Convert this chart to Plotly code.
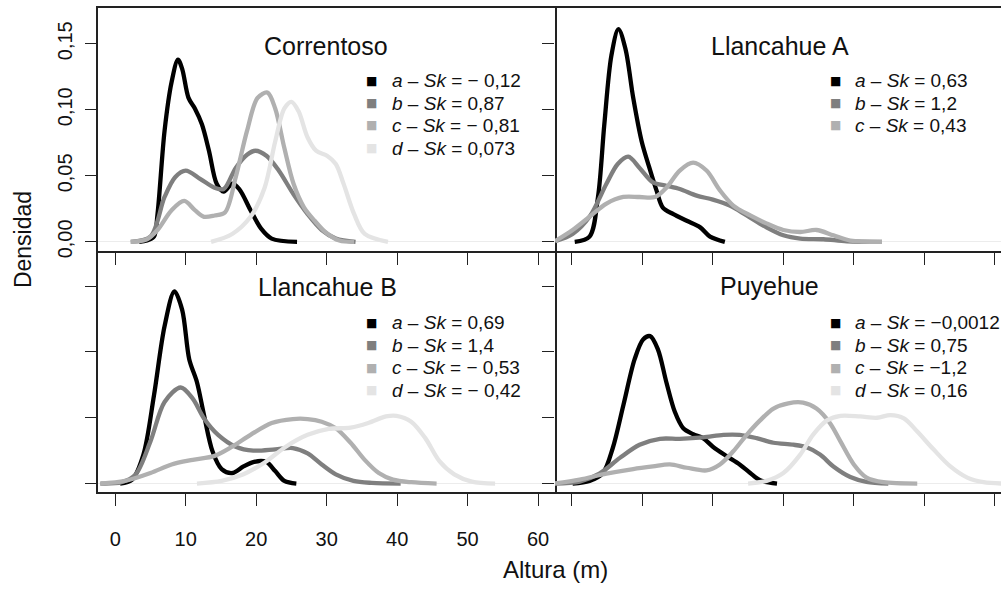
import plotly.graph_objects as go

# ---------------- data ----------------
panels = ["Correntoso", "Llancahue A", "Llancahue B", "Puyehue"]
groups = ["a", "b", "c", "d"]
group_colors = ["#000000", "#7f7f7f", "#b0b0b0", "#e4e4e4"]

x_ticks = [0, 10, 20, 30, 40, 50, 60]
y_ticks = [0, 0.05, 0.10, 0.15]
y_tick_labels = ["0,00", "0,05", "0,10", "0,15"]

# Correntoso
corr_a_x = [3.4, 4.5, 5.5, 6.0, 7.0, 8.0, 8.9, 9.5, 10.4, 11.3, 12.3, 13.3, 14.4, 15.4, 16.6, 17.6, 19.2, 20.7, 22.2, 25.8]
corr_a_y = [0, 0.001, 0.004, 0.021, 0.084, 0.121, 0.138, 0.131, 0.109, 0.101, 0.089, 0.069, 0.044, 0.038, 0.044, 0.040, 0.024, 0.010, 0.0025, 0]
corr_b_x = [2.2, 5.0, 7.0, 8.5, 10.0, 12.1, 14.1, 15.4, 17.1, 18.7, 19.9, 21.5, 23.2, 25.3, 27.3, 29.3, 31.3, 34.1]
corr_b_y = [0, 0.004, 0.034, 0.049, 0.054, 0.0475, 0.041, 0.040, 0.056, 0.066, 0.069, 0.065, 0.054, 0.036, 0.021, 0.009, 0.0025, 0]
corr_c_x = [2.2, 4.5, 6.0, 8.0, 9.8, 11.3, 12.6, 14.1, 15.6, 17.1, 18.7, 20.2, 21.6, 22.7, 24.0, 25.3, 26.8, 28.3, 29.8, 31.8, 33.9]
corr_c_y = [0, 0.002, 0.009, 0.024, 0.031, 0.024, 0.019, 0.020, 0.0225, 0.049, 0.084, 0.109, 0.113, 0.101, 0.071, 0.044, 0.026, 0.016, 0.0075, 0.001, 0]
corr_d_x = [13.6, 16.6, 19.2, 21.2, 22.7, 24.0, 25.0, 26.0, 27.3, 28.5, 30.1, 31.3, 32.4, 33.9, 35.4, 38.7]
corr_d_y = [0, 0.006, 0.019, 0.041, 0.076, 0.101, 0.106, 0.099, 0.079, 0.069, 0.065, 0.059, 0.044, 0.021, 0.006, 0]

# Llancahue A
llA_a_x = [0.4, 2.5, 3.7, 4.6, 5.6, 6.6, 7.6, 8.7, 9.9, 11.0, 12.0, 12.9, 14.4, 16.3, 18.2, 19.6, 21.7]
llA_a_y = [0, 0.004, 0.034, 0.089, 0.141, 0.161, 0.146, 0.109, 0.076, 0.056, 0.039, 0.026, 0.021, 0.016, 0.011, 0.004, 0]
llA_b_x = [-2.4, 0.1, 2.5, 4.9, 6.5, 8.0, 9.6, 11.5, 13.4, 15.3, 17.7, 20.0, 22.4, 24.8, 27.6, 30.0, 32.4, 35.7, 39.0, 44.0]
llA_b_y = [0.0005, 0.006, 0.019, 0.044, 0.059, 0.0645, 0.056, 0.045, 0.0425, 0.040, 0.035, 0.032, 0.0275, 0.020, 0.011, 0.005, 0.0025, 0.002, 0.0005, 0]
llA_c_x = [-2.4, 0.1, 2.5, 4.9, 7.3, 9.6, 11.8, 13.4, 15.3, 17.2, 19.1, 21.0, 22.9, 25.3, 27.6, 30.0, 32.4, 34.7, 37.1, 39.5, 44.0]
llA_c_y = [0.0005, 0.009, 0.019, 0.029, 0.034, 0.034, 0.034, 0.041, 0.054, 0.060, 0.054, 0.039, 0.0275, 0.020, 0.014, 0.009, 0.0075, 0.009, 0.005, 0.001, 0]

# Llancahue B
llB_a_x = [0.7, 2.4, 4.0, 5.5, 7.0, 8.4, 9.5, 10.5, 11.6, 12.6, 13.8, 15.1, 16.6, 18.2, 19.7, 21.4, 22.7, 24.0, 25.7]
llB_a_y = [0, 0.003, 0.022, 0.067, 0.1195, 0.146, 0.132, 0.0945, 0.077, 0.052, 0.0245, 0.011, 0.008, 0.013, 0.0165, 0.0165, 0.0095, 0.002, 0]
llB_b_x = [-2.1, 0.9, 2.9, 5.0, 7.0, 9.3, 11.0, 12.6, 14.6, 17.1, 19.6, 22.7, 25.2, 27.3, 29.3, 31.3, 33.8, 36.4, 40.5]
llB_b_y = [0, 0.001, 0.007, 0.032, 0.062, 0.073, 0.0645, 0.0495, 0.037, 0.028, 0.025, 0.026, 0.027, 0.023, 0.0145, 0.007, 0.002, 0.0005, 0]
llB_c_x = [-2.1, 1.4, 5.0, 8.0, 11.0, 14.1, 16.6, 19.2, 22.2, 25.2, 27.3, 29.3, 31.3, 33.4, 35.4, 37.4, 39.4, 42.0, 45.6]
llB_c_y = [0, 0.002, 0.008, 0.0145, 0.018, 0.021, 0.028, 0.037, 0.046, 0.049, 0.049, 0.047, 0.042, 0.031, 0.018, 0.008, 0.003, 0.001, 0]
llB_d_x = [11.6, 15.1, 18.2, 21.2, 24.2, 27.3, 30.3, 33.4, 35.9, 38.4, 39.9, 42.0, 44.0, 46.0, 48.1, 50.6, 53.9]
llB_d_y = [0, 0.002, 0.007, 0.016, 0.028, 0.037, 0.0415, 0.0425, 0.046, 0.051, 0.0515, 0.047, 0.0345, 0.017, 0.007, 0.0015, 0]

# Puyehue
puy_a_x = [0.1, 2.5, 4.4, 5.8, 7.3, 8.9, 10.1, 11.1, 12.2, 13.4, 14.6, 15.8, 17.2, 18.6, 20.0, 21.9, 23.8, 25.3, 26.7, 29.1]
puy_a_y = [0, 0.002, 0.008, 0.027, 0.0595, 0.0945, 0.1095, 0.112, 0.102, 0.077, 0.0545, 0.042, 0.0375, 0.0345, 0.028, 0.021, 0.0145, 0.008, 0.0025, 0]
puy_b_x = [-2.5, 1.1, 3.9, 6.8, 9.6, 12.5, 15.3, 18.6, 21.5, 23.8, 26.2, 28.6, 31.4, 33.3, 35.2, 37.1, 39.5, 41.8, 44.9]
puy_b_y = [0, 0.0015, 0.0075, 0.0195, 0.0295, 0.034, 0.034, 0.035, 0.037, 0.037, 0.0345, 0.031, 0.0295, 0.0275, 0.022, 0.013, 0.005, 0.0013, 0]
puy_c_x = [-2.5, 1.1, 4.9, 8.7, 11.5, 13.9, 16.3, 19.1, 21.0, 22.9, 24.8, 26.7, 28.6, 30.7, 32.8, 34.7, 36.6, 38.1, 40.0, 41.8, 44.2, 49.0]
puy_c_y = [0, 0.003, 0.0075, 0.011, 0.013, 0.0145, 0.012, 0.010, 0.0145, 0.0245, 0.037, 0.048, 0.057, 0.061, 0.0615, 0.057, 0.046, 0.032, 0.0145, 0.0045, 0.001, 0]
puy_d_x = [25.0, 27.6, 30.0, 32.4, 34.2, 36.2, 38.1, 40.9, 43.3, 45.2, 47.1, 49.0, 51.3, 53.7, 56.1, 58.4, 61.0]
puy_d_y = [0, 0.002, 0.008, 0.022, 0.037, 0.048, 0.0515, 0.051, 0.050, 0.052, 0.0495, 0.0395, 0.026, 0.013, 0.0045, 0.001, 0]

# skewness labels per panel
corr_sk = ["\u2212 0,12", "0,87", "\u2212 0,81", "0,073"]
llA_sk = ["0,63", "1,2", "0,43"]
llB_sk = ["0,69", "1,4", "\u2212 0,53", "\u2212 0,42"]
puy_sk = ["\u22120,0012", "0,75", "\u22121,2", "0,16"]

x_label = "Altura (m)"
y_label = "Densidad"

# ---------------- figure ----------------
W, H = 1001, 590
FONT = "Liberation Sans, Arial, Helvetica, sans-serif"

def px(x):
    return x / W

def py(y):
    return 1 - y / H

series = [
    [(corr_a_x, corr_a_y), (corr_b_x, corr_b_y), (corr_c_x, corr_c_y), (corr_d_x, corr_d_y)],
    [(llA_a_x, llA_a_y), (llA_b_x, llA_b_y), (llA_c_x, llA_c_y)],
    [(llB_a_x, llB_a_y), (llB_b_x, llB_b_y), (llB_c_x, llB_c_y), (llB_d_x, llB_d_y)],
    [(puy_a_x, puy_a_y), (puy_b_x, puy_b_y), (puy_c_x, puy_c_y), (puy_d_x, puy_d_y)],
]
sk_labels = [corr_sk, llA_sk, llB_sk, puy_sk]

fig = go.Figure()
for p, ser in enumerate(series):
    suffix = "" if p == 0 else str(p + 1)
    for g, (xs, ys) in enumerate(ser):
        fig.add_trace(go.Scatter(
            x=xs, y=ys, mode="lines",
            line=dict(color=group_colors[g], width=4.3, shape="spline", smoothing=0.9),
            xaxis="x" + suffix, yaxis="y" + suffix,
            showlegend=False, hoverinfo="skip",
        ))

# panel geometry (pixels)
XL0, XMID, XR = 98.3, 555.0, 1001.0
YT, YMID, YB = 8.4, 253.9, 498.4

axis_common = dict(
    ticks="outside", ticklen=12, tickwidth=1.3, tickcolor="#222",
    showline=True, linecolor="#222", linewidth=1.5,
    showgrid=False, zeroline=False,
    tickfont=dict(family=FONT, size=20, color="#111"),
)
xr_left = [-2.4, 62.4]
xr_right = [-2.4, -2.4 + (XR - XMID) / ((XMID - XL0) / 64.8)]
yr = [-0.0068, 0.1768]

layout_axes = {}
doms_x = [[px(XL0), px(XMID)], [px(XMID), 1.0], [px(XL0), px(XMID)], [px(XMID), 1.0]]
doms_y = [[py(YMID), py(YT)], [py(YMID), py(YT)], [py(YB), py(YMID)], [py(YB), py(YMID)]]
for p in range(4):
    suffix = "" if p == 0 else str(p + 1)
    left_col = p in (0, 2)
    top_row = p < 2
    xa = dict(axis_common)
    xa.update(domain=doms_x[p], range=xr_left if left_col else xr_right,
              tickvals=x_ticks, anchor="y" + suffix, mirror=top_row,
              showticklabels=(p == 2), ticklabelstandoff=16)
    ya = dict(axis_common)
    ya.update(domain=doms_y[p], range=yr, tickvals=y_ticks, ticktext=y_tick_labels,
              anchor="x" + suffix, mirror=left_col, showline=left_col,
              showticklabels=(p == 0), tickangle=-90, ticklabelstandoff=5,
              zeroline=True, zerolinecolor="#ececec", zerolinewidth=1)
    layout_axes["xaxis" + suffix] = xa
    layout_axes["yaxis" + suffix] = ya

annotations = []
title_pos = [(326, 47), (780, 47), (327, 290), (769.5, 289)]
for p, name in enumerate(panels):
    annotations.append(dict(text=name, x=px(title_pos[p][0]), y=py(title_pos[p][1]),
                            xref="paper", yref="paper", showarrow=False,
                            xanchor="center", yanchor="middle",
                            font=dict(family=FONT, size=25, color="#111")))

legend_rows_top = [81.7, 104.3, 127.0, 149.8]
legend_rows_bot = [326.7, 349.3, 372.3, 395.0]
for p, labels in enumerate(sk_labels):
    left_col = p in (0, 2)
    sq_x = 371.5 if left_col else 835.0
    tx_x = 390.0 if left_col else 853.0
    rows = legend_rows_top if p < 2 else legend_rows_bot
    for g, lab in enumerate(labels):
        annotations.append(dict(text="\u25a0", x=px(sq_x), y=py(rows[g]),
                                xref="paper", yref="paper", showarrow=False,
                                xanchor="center", yanchor="middle",
                                font=dict(family="DejaVu Sans", size=12, color=group_colors[g])))
        annotations.append(dict(text="<i>%s</i> \u2013 <i>Sk</i> = %s" % (groups[g], lab),
                                x=px(tx_x), y=py(rows[g]),
                                xref="paper", yref="paper", showarrow=False,
                                xanchor="left", yanchor="middle",
                                font=dict(family=FONT, size=19, color="#111")))

annotations.append(dict(text=x_label, x=px(555), y=py(576), xref="paper", yref="paper",
                        showarrow=False, xanchor="center", yanchor="middle",
                        font=dict(family=FONT, size=24, color="#111")))
annotations.append(dict(text=y_label, x=px(23), y=py(243), xref="paper", yref="paper",
                        showarrow=False, xanchor="center", yanchor="middle", textangle=-90,
                        font=dict(family=FONT, size=23, color="#111")))

fig.update_layout(
    width=W, height=H, autosize=False,
    margin=dict(l=0, r=0, t=0, b=0),
    paper_bgcolor="white", plot_bgcolor="white",
    showlegend=False,
    annotations=annotations,
    **layout_axes,
)

fig.write_html("out.html", include_plotlyjs=True, config={"displayModeBar": False})
